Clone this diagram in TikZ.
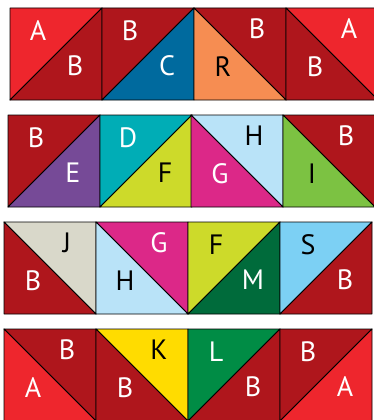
\documentclass[tikz,border=0pt]{standalone}
\usepackage{fontspec}
\setmainfont{PT Sans}
\definecolor{cRed}{HTML}{EE262D}
\definecolor{cDark}{HTML}{AF161C}
\definecolor{cBlue}{HTML}{006A9E}
\definecolor{cOrange}{HTML}{F68D52}
\definecolor{cPurple}{HTML}{764A97}
\definecolor{cTeal}{HTML}{00ADB6}
\definecolor{cLime}{HTML}{CDDA2A}
\definecolor{cMagenta}{HTML}{DC2888}
\definecolor{cPale}{HTML}{B9E3F8}
\definecolor{cGreen}{HTML}{7CC242}
\definecolor{cBeige}{HTML}{D9D8CA}
\definecolor{cDGreen}{HTML}{006B3B}
\definecolor{cSky}{HTML}{7CD0F4}
\definecolor{cYellow}{HTML}{FFDC00}
\definecolor{cLGreen}{HTML}{008C45}
\tikzset{
  tri/.style={draw=black,line width=0.9pt,line join=round},
  lab/.style={inner sep=0pt,font=\fontsize{28}{28}\selectfont,text height=0.7em,text depth=0pt,anchor=center}
}
% diagonal from bottom-left to top-right: triangles top-left and bottom-right
\newcommand\sqSlash[8]{%
  \begin{scope}[shift={(#1,#2)}]
    \filldraw[tri,fill=#3] (0,0) -- (92,0) -- (0,92) -- cycle;
    \filldraw[tri,fill=#4] (92,0) -- (92,92) -- (0,92) -- cycle;
    \node[lab,text=#7] (l#1x#2a) at (28,29) {#5};
    \node[lab,text=#8] (l#1x#2b) at (65,64) {#6};
  \end{scope}}
% diagonal from top-left to bottom-right: triangles top-right and bottom-left
\newcommand\sqBack[8]{%
  \begin{scope}[shift={(#1,#2)}]
    \filldraw[tri,fill=#3] (0,0) -- (92,0) -- (92,92) -- cycle;
    \filldraw[tri,fill=#4] (0,0) -- (92,92) -- (0,92) -- cycle;
    \node[lab,text=#7] (l#1x#2a) at (63,27) {#5};
    \node[lab,text=#8] (l#1x#2b) at (29,65) {#6};
  \end{scope}}
\begin{document}
\begin{tikzpicture}[x=1pt,y=-1pt]
\useasboundingbox (0,0) rectangle (373,420);
\fill[white] (0,0) rectangle (373,420);
% row 1
\sqSlash{10}{8}{cRed}{cDark}{A}{B}{white}{white}
\sqSlash{102}{8}{cDark}{cBlue}{B}{C}{white}{white}
\sqBack{194}{8}{cDark}{cOrange}{B}{R}{white}{black}
\sqBack{286}{8}{cRed}{cDark}{A}{B}{white}{white}
% row 2
\sqSlash{8}{115}{cDark}{cPurple}{B}{E}{white}{white}
\sqSlash{100}{115}{cTeal}{cLime}{D}{F}{white}{black}
\sqBack{191}{115}{cPale}{cMagenta}{H}{G}{black}{white}
\sqBack{283}{115}{cDark}{cGreen}{B}{I}{white}{black}
% row 3
\sqBack{4}{222}{cBeige}{cDark}{J}{B}{black}{white}
\sqBack{96}{222}{cMagenta}{cPale}{G}{H}{white}{black}
\sqSlash{188}{222}{cLime}{cDGreen}{F}{M}{black}{white}
\sqSlash{280}{222}{cSky}{cDark}{S}{B}{black}{white}
% row 4
\sqBack{4}{329}{cDark}{cRed}{B}{A}{white}{white}
\sqBack{96}{329}{cYellow}{cDark}{K}{B}{black}{white}
\sqSlash{188}{329}{cLGreen}{cDark}{L}{B}{white}{white}
\sqSlash{280}{329}{cDark}{cRed}{B}{A}{white}{white}
\end{tikzpicture}
\end{document}
